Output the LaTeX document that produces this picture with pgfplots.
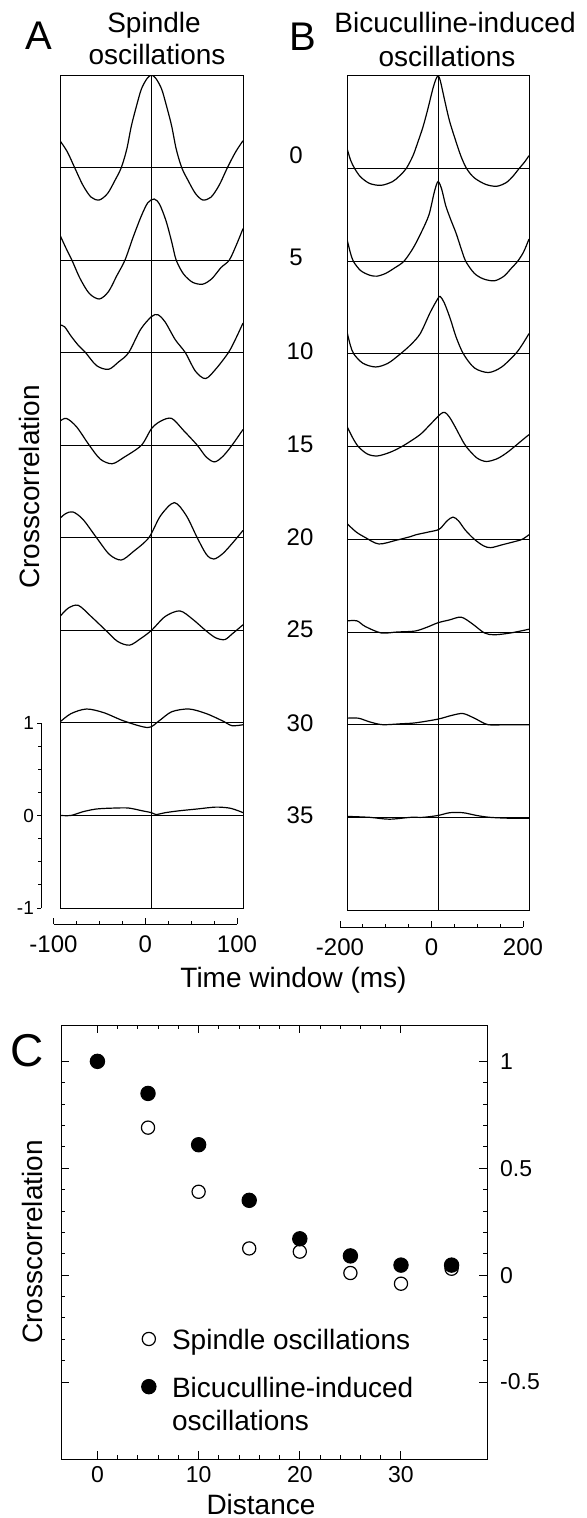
\documentclass[border=0pt]{standalone}
\usepackage{fontspec}
\setmainfont{Liberation Sans}
\usepackage{pgfplots}
\pgfplotsset{compat=1.18}

\pgfplotsset{
  every axis/.append style={/pgf/number format/assume math mode=true, line width=0.5pt},
  trace/.style={black, line width=0.6pt, smooth, tension=0.5, no markers},
  stack/.style={scale only axis, anchor=south west, ymin=-8, ymax=1,
    xtick={0}, ytick={-7,-6,-5,-4,-3,-2,-1,0}, xticklabels={}, yticklabels={},
    grid=major, grid style={black, line width=0.5pt}, major tick length=0pt},
  bar/.style={scale only axis, anchor=south west, height=10pt, ymin=0, ymax=1,
    axis x line*=bottom, axis y line=none, x axis line style={-},
    minor x tick num=3, tick align=inside, major tick length=3pt, minor tick length=1.5pt,
    tick style={black, line width=0.5pt},
    xticklabel style={font=\fontsize{12}{14}\selectfont, yshift=-2.5pt}},
  dotleg/.style={legend image code/.code={\draw[##1] plot coordinates {(0pt,5.5pt)};}},
}

\begin{document}
\begin{tikzpicture}
\useasboundingbox (0,0) rectangle (293.5pt,-759pt);

% ---- A: spindle oscillations
\begin{axis}[stack, at={(30pt,-454pt)}, width=91.5pt, height=416.5pt, xmin=-100, xmax=100]
\addplot[trace] coordinates {(-100,0.29) (-92,0.17) (-84,0.0) (-75,-0.19) (-66,-0.32) (-57,-0.35) (-48,-0.28) (-40,-0.14) (-33,0.0) (-27,0.2) (-22,0.45) (-16,0.68) (-11,0.85) (-5,0.96) (0,1.0) (5,0.96) (11,0.85) (16,0.68) (22,0.45) (27,0.2) (33,0.0) (40,-0.14) (48,-0.28) (56,-0.35) (65,-0.32) (74,-0.19) (83,0.0) (92,0.17) (100,0.29)};
\addplot[trace, y filter/.expression={y-1}] coordinates {(-100,0.27) (-93,0.12) (-87,0.0) (-78,-0.2) (-68,-0.36) (-57,-0.42) (-47,-0.34) (-38,-0.17) (-29,0.0) (-20,0.25) (-11,0.48) (-4,0.62) (3,0.66) (9,0.6) (16,0.42) (22,0.2) (27,0.0) (35,-0.15) (45,-0.24) (56,-0.26) (66,-0.2) (76,-0.08) (85,0.0) (93,0.17) (100,0.34)};
\addplot[trace, y filter/.expression={y-2}] coordinates {(-100,0.30) (-95,0.28) (-88,0.18) (-80,0.08) (-72,0.0) (-60,-0.14) (-47,-0.18) (-36,-0.1) (-25,0.0) (-12,0.25) (0,0.39) (7,0.41) (15,0.33) (26,0.14) (37,0.0) (48,-0.2) (59,-0.28) (70,-0.18) (84,0.0) (92,0.15) (100,0.32)};
\addplot[trace, y filter/.expression={y-3}] coordinates {(-100,0.26) (-93,0.29) (-82,0.2) (-68,0.0) (-56,-0.15) (-43,-0.2) (-30,-0.13) (-11,0.0) (0,0.18) (10,0.26) (22,0.29) (35,0.16) (50,0.0) (60,-0.13) (69,-0.18) (78,-0.12) (88,0.0) (100,0.17)};
\addplot[trace, y filter/.expression={y-4}] coordinates {(-100,0.21) (-94,0.26) (-86,0.28) (-75,0.2) (-60,0.0) (-46,-0.18) (-33,-0.24) (-20,-0.15) (-3,0.0) (10,0.24) (25,0.38) (38,0.24) (50,0.0) (60,-0.18) (68,-0.23) (78,-0.17) (90,-0.04) (100,0.08)};
\addplot[trace, y filter/.expression={y-5}] coordinates {(-100,0.15) (-91,0.24) (-80,0.27) (-66,0.15) (-50,0.0) (-37,-0.12) (-24,-0.16) (-12,-0.09) (0,0.0) (15,0.15) (31,0.21) (45,0.12) (59,0.0) (70,-0.08) (80,-0.1) (88,-0.04) (100,0.06)};
\addplot[trace, y filter/.expression={y-6}] coordinates {(-100,0.01) (-88,0.1) (-71,0.15) (-52,0.11) (-30,0.02) (-4,-0.05) (8,0.02) (22,0.12) (41,0.15) (60,0.1) (78,0.02) (88,-0.03) (100,-0.02)};
\addplot[trace, y filter/.expression={y-7}] coordinates {(-100,0.0) (-88,0.0) (-75,0.04) (-60,0.07) (-40,0.08) (-25,0.08) (-10,0.05) (0,0.03) (5,0.01) (15,0.03) (30,0.05) (50,0.07) (70,0.09) (85,0.08) (95,0.05) (100,0.03)};
\end{axis}

% scale bar of A
\begin{axis}[scale only axis, anchor=south west, at={(20.5pt,-454pt)}, width=5pt, height=92.5pt,
  xmin=0, xmax=1, ymin=-1, ymax=1, axis y line*=left, axis x line=none, y axis line style={-},
  ytick={-1,0,1}, minor y tick num=3, tick align=outside, major tick length=2pt, minor tick length=1.5pt,
  tick style={black, line width=0.5pt},
  yticklabel style={font=\fontsize{9.5}{11}\selectfont, xshift=2pt}]
\end{axis}

% time axis of A
\begin{axis}[bar, at={(26.75pt,-462pt)}, width=91.75pt, xmin=-100, xmax=100, xtick={-100,0,100}]
\end{axis}

% ---- B: bicuculline-induced oscillations
\begin{axis}[stack, at={(173.5pt,-455pt)}, width=91pt, height=417pt, xmin=-200, xmax=200]
\addplot[trace] coordinates {(-200,0.22) (-192,0.09) (-183,0.0) (-170,-0.09) (-150,-0.16) (-125,-0.18) (-100,-0.14) (-85,-0.08) (-70,0.0) (-55,0.14) (-44,0.29) (-33,0.45) (-22,0.65) (-12,0.85) (-5,0.96) (0,1.0) (5,0.95) (15,0.73) (25,0.52) (37,0.33) (50,0.14) (63,0.0) (80,-0.1) (105,-0.17) (129,-0.19) (150,-0.15) (165,-0.08) (178,0.0) (190,0.07) (200,0.14)};
\addplot[trace, y filter/.expression={y-1}] coordinates {(-200,0.24) (-193,0.1) (-186,0.0) (-170,-0.1) (-150,-0.15) (-134,-0.16) (-115,-0.13) (-95,-0.07) (-75,0.0) (-55,0.14) (-38,0.3) (-20,0.5) (-8,0.75) (0,0.86) (8,0.78) (17,0.6) (28,0.45) (40,0.3) (50,0.15) (61,0.0) (80,-0.13) (100,-0.19) (124,-0.21) (145,-0.16) (162,-0.07) (175,0.0) (188,0.1) (200,0.24)};
\addplot[trace, y filter/.expression={y-2}] coordinates {(-200,0.24) (-193,0.1) (-185,0.0) (-165,-0.1) (-137,-0.14) (-110,-0.1) (-83,0.0) (-60,0.1) (-39,0.22) (-17,0.45) (0,0.6) (5,0.62) (14,0.55) (27,0.38) (40,0.18) (56,0.0) (80,-0.15) (111,-0.2) (140,-0.14) (170,0.0) (185,0.1) (200,0.22)};
\addplot[trace, y filter/.expression={y-3}] coordinates {(-200,0.22) (-188,0.1) (-175,0.0) (-155,-0.08) (-133,-0.1) (-105,-0.06) (-80,0.0) (-57,0.07) (-37,0.14) (-15,0.25) (5,0.35) (15,0.37) (25,0.32) (37,0.22) (50,0.1) (62,0.0) (85,-0.12) (106,-0.16) (130,-0.13) (150,-0.07) (168,0.0) (185,0.07) (200,0.13)};
\addplot[trace, y filter/.expression={y-4}] coordinates {(-200,0.17) (-180,0.08) (-160,0.02) (-130,-0.05) (-92,-0.01) (-60,0.03) (-48,0.05) (-20,0.08) (3,0.11) (20,0.2) (33,0.24) (45,0.2) (60,0.1) (80,0.0) (100,-0.07) (116,-0.09) (140,-0.06) (164,-0.03) (185,0.0) (200,0.05)};
\addplot[trace, y filter/.expression={y-5}] coordinates {(-200,0.12) (-178,0.12) (-160,0.06) (-125,-0.01) (-90,0.0) (-51,0.01) (-25,0.05) (0,0.1) (25,0.13) (51,0.16) (75,0.09) (102,-0.01) (124,-0.03) (160,-0.01) (200,0.03)};
\addplot[trace, y filter/.expression={y-6}] coordinates {(-200,0.07) (-175,0.07) (-150,0.03) (-122,0.0) (-80,0.01) (-49,0.02) (0,0.06) (30,0.1) (55,0.12) (80,0.07) (110,0.0) (150,0.0) (200,0.0)};
\addplot[trace, y filter/.expression={y-7}] coordinates {(-200,0.01) (-150,0.0) (-107,-0.02) (-60,0.0) (-33,0.0) (0,0.02) (26,0.05) (55,0.05) (85,0.02) (114,0.0) (160,-0.01) (200,-0.01)};
\end{axis}

% time axis of B
\begin{axis}[bar, at={(170pt,-463.5pt)}, width=91.5pt, xmin=-200, xmax=200, xtick={-200,0,200}]
\end{axis}

% ---- C: crosscorrelation against distance
\begin{axis}[at={(30.5pt,-729.5pt)}, anchor=south west, scale only axis, width=213pt, height=217pt,
  xmin=-3.6, xmax=38.5, ymin=-0.86, ymax=1.17,
  xtick={0,10,20,30}, ytick={-0.5,0,0.5,1}, minor x tick num=4, minor y tick num=4,
  tick align=inside, major tick length=4pt, minor tick length=2pt,
  tick style={black, line width=0.5pt},
  xtick pos=both, ytick pos=both, yticklabel pos=right, xticklabel pos=bottom,
  ticklabel style={font=\fontsize{11.5}{13}\selectfont},
  yticklabel style={xshift=3pt},
  xlabel={Distance}, ylabel={Crosscorrelation},
  label style={font=\fontsize{14}{16}\selectfont},
  xlabel style={at={(axis description cs:0.5,0)}, anchor=base, yshift=-27.5pt, xshift=-6.5pt},
  ylabel style={at={(axis description cs:0,0.5)}, anchor=south, inner sep=0pt, yshift=9pt},
  legend style={at={(axis cs:4.32,-0.234)}, anchor=north west, draw=none, fill=none,
    inner sep=0pt, row sep=6.8pt, column sep=6pt, font=\fontsize{14}{16.5}\selectfont,
    cells={anchor=base west}}]
\addplot[only marks, mark=*, mark size=3.3pt, mark options={fill=white, draw=black, line width=0.6pt}, dotleg]
  coordinates {(5,0.69) (10,0.39) (15,0.125) (20,0.11) (25,0.01) (30,-0.04) (35,0.03)};
\addlegendentry{Spindle oscillations}
\addplot[only marks, mark=*, mark size=3.6pt, mark options={fill=black, draw=black}, dotleg]
  coordinates {(0,1.0) (5,0.85) (10,0.61) (15,0.35) (20,0.17) (25,0.09) (30,0.047) (35,0.047)};
\addlegendentry{\begin{tabular}[t]{@{}l@{}}Bicuculline-induced\\oscillations\end{tabular}}
\end{axis}

% ---- texts
\node[font=\fontsize{20}{20}\selectfont] at (19.5pt,-18pt) {A};
\node[font=\fontsize{14}{16}\selectfont, anchor=base] at (77pt,-16.5pt) {Spindle};
\node[font=\fontsize{14}{16}\selectfont, anchor=base] at (78.5pt,-32.5pt) {oscillations};
\node[font=\fontsize{20}{20}\selectfont] at (151.5pt,-18.5pt) {B};
\node[font=\fontsize{14}{16}\selectfont, anchor=base] at (227.5pt,-16.5pt) {Bicuculline-induced};
\node[font=\fontsize{14}{16}\selectfont, anchor=base] at (223.5pt,-33.5pt) {oscillations};
\node[font=\fontsize{14}{16}\selectfont, rotate=90] at (14.75pt,-243.5pt) {Crosscorrelation};
\node[font=\fontsize{14}{16}\selectfont, anchor=base] at (146.75pt,-493.5pt) {Time window (ms)};
\node[font=\fontsize{23}{23}\selectfont] at (13.75pt,-525.5pt) {C};

\begin{scope}[every node/.style={font=\fontsize{12}{14}\selectfont}]
\node at (148pt,-77.5pt) {0};
\node at (148pt,-128.5pt) {5};
\node at (150pt,-175.5pt) {10};
\node at (150pt,-222pt) {15};
\node at (150pt,-268.5pt) {20};
\node at (150pt,-314.5pt) {25};
\node at (150pt,-361.5pt) {30};
\node at (150pt,-407.5pt) {35};
\end{scope}
\end{tikzpicture}
\end{document}
